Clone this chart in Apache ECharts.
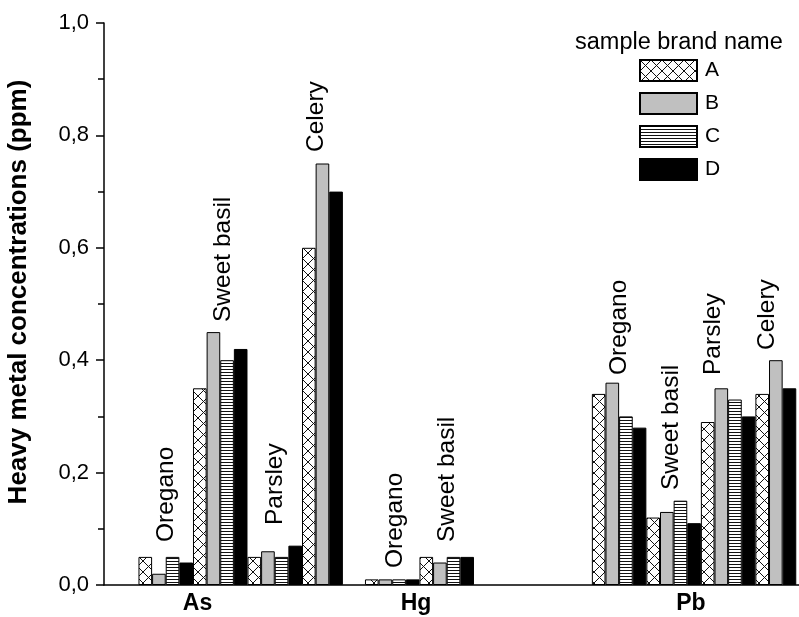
<!DOCTYPE html>
<html>
<head>
<meta charset="utf-8">
<script src="https://cdn.jsdelivr.net/npm/echarts@6/dist/echarts.min.js"></script>
<style>html,body{margin:0;padding:0;background:#fff;}#c{width:799px;height:617px;}</style>
</head>
<body>
<div id="c"></div>
<script>
// ---------------- data ----------------
const metals = ['As', 'Hg', 'Pb'];
const brands = ['A', 'B', 'C', 'D'];
const herbsAs = ['Oregano', 'Sweet basil', 'Parsley', 'Celery'];
const herbsHg = ['Oregano', 'Sweet basil'];
const herbsPb = ['Oregano', 'Sweet basil', 'Parsley', 'Celery'];
// values per brand [A, B, C, D]; null = no bar
const asOregano    = [0.05, 0.02, 0.05, 0.04];
const asSweetBasil = [0.35, 0.45, 0.40, 0.42];
const asParsley    = [0.05, 0.06, 0.05, 0.07];
const asCelery     = [0.60, 0.75, null, 0.70];
const hgOregano    = [0.01, 0.01, 0.01, 0.01];
const hgSweetBasil = [0.05, 0.04, 0.05, 0.05];
const pbOregano    = [0.34, 0.36, 0.30, 0.28];
const pbSweetBasil = [0.12, 0.13, 0.15, 0.11];
const pbParsley    = [0.29, 0.35, 0.33, 0.30];
const pbCelery     = [0.34, 0.40, null, 0.35];
const yTickLabels  = ['0,0', '0,2', '0,4', '0,6', '0,8', '1,0'];

// ---------------- layout ----------------
const FONT = "'Liberation Sans', Arial, sans-serif";
const GRID = { left: 104, right: 0, top: 23, bottom: 32, outerBoundsMode: 'none', containLabel: false };
const SLOTS = 51;                       // x extent in bar-slot units
const groupStart = [2.53, 19.15, 35.8]; // slot where each metal group starts
const metalLabelOffset = [4.33, 3.75, 7.27];
const herbLabelShift = [[0, 0.2, 0, -0.5], [0.2, 0], [0, -0.2, -1.1, -0.65]];
const herbLabelGap = [[15, 10, 21, 12], [11, 15], [8, 11, 13, 10]];

const groups = [
  { herbs: herbsAs, values: [asOregano, asSweetBasil, asParsley, asCelery] },
  { herbs: herbsHg, values: [hgOregano, hgSweetBasil] },
  { herbs: herbsPb, values: [pbOregano, pbSweetBasil, pbParsley, pbCelery] }
];

const barData = brands.map(() => []);
const herbLabels = [];
const metalPos = [];
groups.forEach((g, gi) => {
  let pos = groupStart[gi];
  metalPos.push(groupStart[gi] + metalLabelOffset[gi]);
  g.values.forEach((vals, hi) => {
    const start = pos;
    vals.forEach((v, bi) => {
      if (v !== null) { barData[bi].push([pos + 0.5, v]); pos += 1; }
    });
    herbLabels.push({
      value: [(start + pos) / 2 + herbLabelShift[gi][hi], Math.max(...vals.filter(v => v !== null)), herbLabelGap[gi][hi]],
      name: g.herbs[hi]
    });
  });
});

// ---------------- patterns ----------------
function makePattern(kind) {
  const c = document.createElement('canvas');
  if (kind === 'cross') {
    const s = 11;
    c.width = s; c.height = s;
    const x = c.getContext('2d');
    x.fillStyle = '#fff'; x.fillRect(0, 0, s, s);
    x.strokeStyle = '#111'; x.lineWidth = 1;
    x.beginPath();
    x.moveTo(0, 0); x.lineTo(s, s);
    x.moveTo(s, 0); x.lineTo(0, s);
    x.stroke();
  } else {
    c.width = 3; c.height = 3;
    const x = c.getContext('2d');
    x.fillStyle = '#fff'; x.fillRect(0, 0, 3, 3);
    x.fillStyle = '#111'; x.fillRect(0, 0, 3, 1);
  }
  return { image: c, repeat: 'repeat' };
}
const brandFill = [makePattern('cross'), '#c0c0c0', makePattern('lines'), '#000'];

const chart = echarts.init(document.getElementById('c'), null, { renderer: 'canvas' });
const gridW = 799 - GRID.left - GRID.right;
const slotPx = gridW / SLOTS;

const series = brands.map((b, bi) => ({
  name: b,
  type: 'bar',
  data: barData[bi],
  barWidth: slotPx,
  barGap: '-100%',
  itemStyle: { color: brandFill[bi], borderColor: '#000', borderWidth: 1 },
  silent: true
}));
series.push({
  type: 'custom',
  data: herbLabels,
  silent: true,
  encode: { x: 0, y: 1 },
  renderItem: (params, api) => {
    const p = api.coord([api.value(0), api.value(1)]);
    const gap = api.value(2);
    return {
      type: 'text',
      x: Math.round(p[0]),
      y: Math.round(p[1] - gap),
      rotation: Math.PI / 2,
      style: {
        text: herbLabels[params.dataIndex].name,
        fill: '#000',
        font: "24.5px 'Liberation Sans', Arial, sans-serif",
        align: 'left',
        verticalAlign: 'middle'
      }
    };
  }
});

chart.setOption({
  animation: false,
  backgroundColor: '#fff',
  title: {
    text: 'sample brand name',
    left: 575, top: 31, padding: 0,
    textStyle: { fontFamily: FONT, fontSize: 23.5, fontWeight: 'normal', color: '#000' }
  },
  legend: {
    data: brands,
    orient: 'vertical',
    left: 639, top: 59, padding: 0,
    icon: 'rect',
    itemWidth: 57, itemHeight: 21, itemGap: 10,
    selectedMode: false,
    textStyle: { fontFamily: FONT, fontSize: 21, color: '#000', padding: [0, 0, 0, 3] }
  },
  grid: GRID,
  xAxis: {
    type: 'value',
    min: 0, max: SLOTS,
    splitLine: { show: false },
    axisLine: { show: true, lineStyle: { color: '#000', width: 1.5 } },
    axisTick: { show: false },
    axisLabel: {
      customValues: metalPos,
      formatter: v => metals[metalPos.findIndex(p => Math.abs(p - v) < 1e-6)] || '',
      fontFamily: FONT, fontSize: 23, fontWeight: 'bold', color: '#000', margin: 7
    }
  },
  yAxis: {
    type: 'value',
    min: 0, max: 1, interval: 0.2,
    name: 'Heavy metal concentrations (ppm)',
    nameLocation: 'middle',
    nameGap: 72,
    nameTextStyle: { fontFamily: FONT, fontSize: 26, fontWeight: 'bold', color: '#000', padding: [0, 0, 0, 24] },
    splitLine: { show: false },
    axisLine: { show: true, lineStyle: { color: '#000', width: 1.5 } },
    axisTick: { show: true, inside: false, length: 8, lineStyle: { color: '#000', width: 1.5 } },
    minorTick: { show: true, splitNumber: 2, length: 6, lineStyle: { color: '#000', width: 1.5 } },
    axisLabel: {
      formatter: v => yTickLabels[Math.round(v / 0.2)],
      fontFamily: FONT, fontSize: 22, color: '#000', margin: 15, padding: [6, 0, 0, 0]
    }
  },
  series: series
});
</script>
</body>
</html>
